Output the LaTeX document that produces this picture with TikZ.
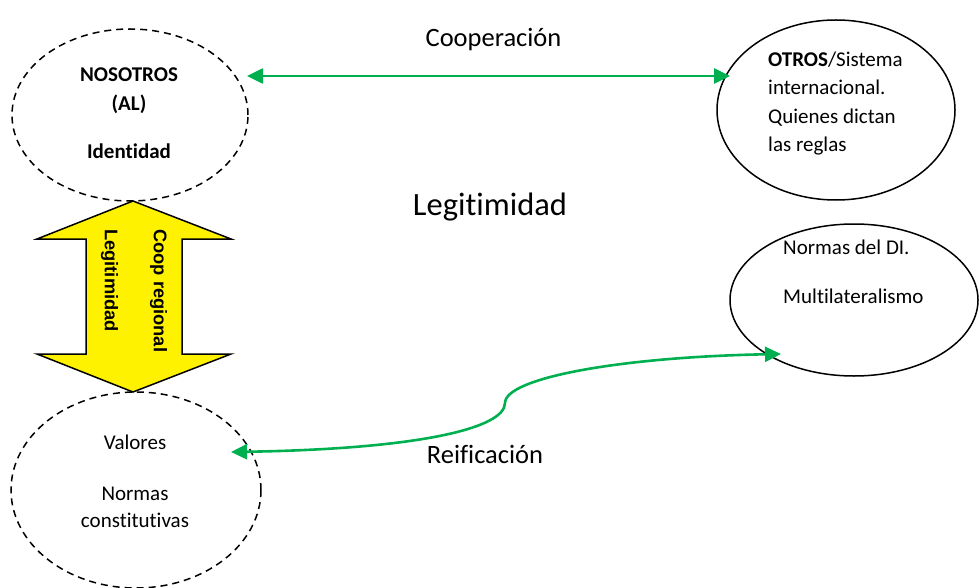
\documentclass[tikz,border=0pt]{standalone}
\usepackage{fontspec}
\setmainfont{Carlito}[Ligatures=CommonOff]
\newfontfamily\arialfont{Liberation Sans}
\usetikzlibrary{arrows.meta,shapes.geometric}
\definecolor{arrowgreen}{HTML}{00B050}
\begin{document}
\begin{tikzpicture}[x=1pt,y=-1pt,
  bubble/.style={ellipse,draw=black,line width=1.5pt,inner sep=0pt},
  dashbubble/.style={bubble,dash pattern=on 7pt off 5pt},
  body/.style={font=\fontsize{21}{28}\selectfont,inner sep=0pt},
  bigtxt/.style={font=\fontsize{26.5}{32}\selectfont,inner sep=0pt},
  sidetxt/.style={font=\arialfont\bfseries\fontsize{18.3}{22}\selectfont,inner sep=0pt,rotate=-90,anchor=west},
  link/.style={draw=arrowgreen,line width=2.6pt,{Triangle[length=16pt,width=15pt]}-{Triangle[length=16pt,width=15pt]}}
]
\useasboundingbox (0,0) rectangle (979,588);

% ellipses
\node[dashbubble,minimum width=236pt,minimum height=172pt] (nos) at (130,115) {};
\node[dashbubble,minimum width=250pt,minimum height=196pt] (val) at (136,490) {};
\node[bubble,minimum width=238pt,minimum height=180pt] (otros) at (836,110) {};
\node[bubble,minimum width=248pt,minimum height=152pt] (normas) at (854,300) {};

% texts in ellipses
\node[body,anchor=base] (t1) at (129,82) {\bfseries NOSOTROS};
\node[body,anchor=base] (t2) at (129,111) {\bfseries (AL)};
\node[body,anchor=base] (t3) at (129,159) {\bfseries Identidad};

\node[body,anchor=base west] (o1) at (768,67) {\textbf{OTROS}/Sistema};
\node[body,anchor=base west] (o2) at (768,95) {internacional.};
\node[body,anchor=base west] (o3) at (768,123.5) {Quienes dictan};
\node[body,anchor=base west] (o4) at (768,152) {las reglas};

\node[body,anchor=base west] (n1) at (783,254) {Normas del DI.};
\node[body,anchor=base west] (n2) at (783,303) {Multilateralismo};

\node[body,anchor=base] (v1) at (135,449) {Valores};
\node[body,anchor=base] (v2) at (135,500) {Normas};
\node[body,anchor=base] (v3) at (135,527) {constitutivas};

% free labels
\node[bigtxt,anchor=base] (coop) at (493.5,47) {Cooperación};
\node[font=\fontsize{32.5}{38}\selectfont,inner sep=0pt,anchor=base] (legit) at (490,215) {Legitimidad};
\node[bigtxt,anchor=base] (reif) at (485,463) {Reificación};

% yellow double arrow
\draw[fill=yellow,draw=black,line width=1.5pt,line join=miter]
  (133,201) -- (231,239) -- (182,239) -- (182,354) -- (231,354) -- (133,392)
  -- (37,354) -- (86,354) -- (86,239) -- (37,239) -- cycle;
\node[sidetxt] (s1) at (158.5,229) {Coop regional};
\node[sidetxt] (s2) at (109.5,229) {Legitimidad};

% green connectors
\coordinate (ca) at (247,76);
\coordinate (cb) at (730,76);
\coordinate (ra) at (231,452);
\coordinate (rb) at (781,354);
\draw[link] (ca) -- (cb);
\draw[link] (ra) .. controls (420,449) and (505,428) .. (505,403)
  .. controls (505,378) and (620,357) .. (rb);
\end{tikzpicture}
\end{document}
